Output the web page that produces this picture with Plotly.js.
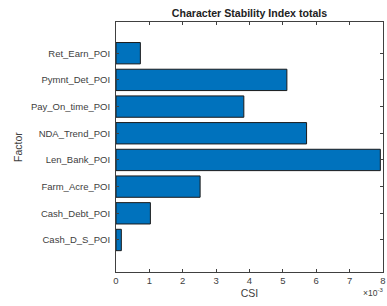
<!DOCTYPE html>
<html><head><meta charset="utf-8">
<script src="https://cdn.plot.ly/plotly-3.0.1.min.js"></script>
<style>html,body{margin:0;padding:0;background:#fff}#chart{width:387px;height:306px}</style>
</head><body><div id="chart"></div>
<script>
const factors = ["Cash_D_S_POI","Cash_Debt_POI","Farm_Acre_POI","Len_Bank_POI","NDA_Trend_POI","Pay_On_time_POI","Pymnt_Det_POI","Ret_Earn_POI"];
const csi = [0.00016,0.00103,0.00252,0.00792,0.00571,0.00383,0.00512,0.00073];
const xTickVals = [0,0.001,0.002,0.003,0.004,0.005,0.006,0.007,0.008];
const xTickText = ["0","1","2","3","4","5","6","7","8"];

const font = {family:"Liberation Sans, Arial, Helvetica, sans-serif", color:"#404040"};
Plotly.newPlot("chart", [{
  type:"bar", orientation:"h", y:factors, x:csi, width:0.8,
  marker:{color:"#0072BD", line:{color:"#1a1a1a", width:1}}
}], {
  width:387, height:306,
  margin:{l:116, r:4, t:22, b:34},
  paper_bgcolor:"#fff", plot_bgcolor:"#fff",
  showlegend:false,
  title:{text:"<b>Character Stability Index totals</b>", x:0.6447, xanchor:"center", y:0.958, yanchor:"middle",
         font:{family:font.family, size:10.6, color:"#222"}},
  xaxis:{range:[0,0.008], tickvals:xTickVals, ticktext:xTickText, ticks:"inside", ticklen:3, tickcolor:"#404040",
         showline:true, linecolor:"#404040", linewidth:1, mirror:"ticks", showgrid:false, zeroline:false,
         tickfont:{family:font.family, size:9.5, color:"#404040"},
         title:{text:"CSI", standoff:4, font:{family:font.family, size:10.5, color:"#404040"}}},
  yaxis:{range:[-1.2,8.17], ticks:"inside", ticklen:3, tickcolor:"#404040", ticklabelstandoff:3,
         showline:true, linecolor:"#404040", linewidth:1, mirror:"ticks", showgrid:false, zeroline:false,
         tickfont:{family:font.family, size:9.5, color:"#404040"},
         title:{text:"Factor", standoff:6, font:{family:font.family, size:10.5, color:"#404040"}}},
  annotations:[{text:"×10<sup>-3</sup>", xref:"paper", yref:"paper", x:1.0075, y:-0.112, xanchor:"right", yanchor:"bottom",
                showarrow:false, font:{family:font.family, size:8.5, color:"#404040"}}]
}, {displayModeBar:false, staticPlot:true});
</script></body></html>
